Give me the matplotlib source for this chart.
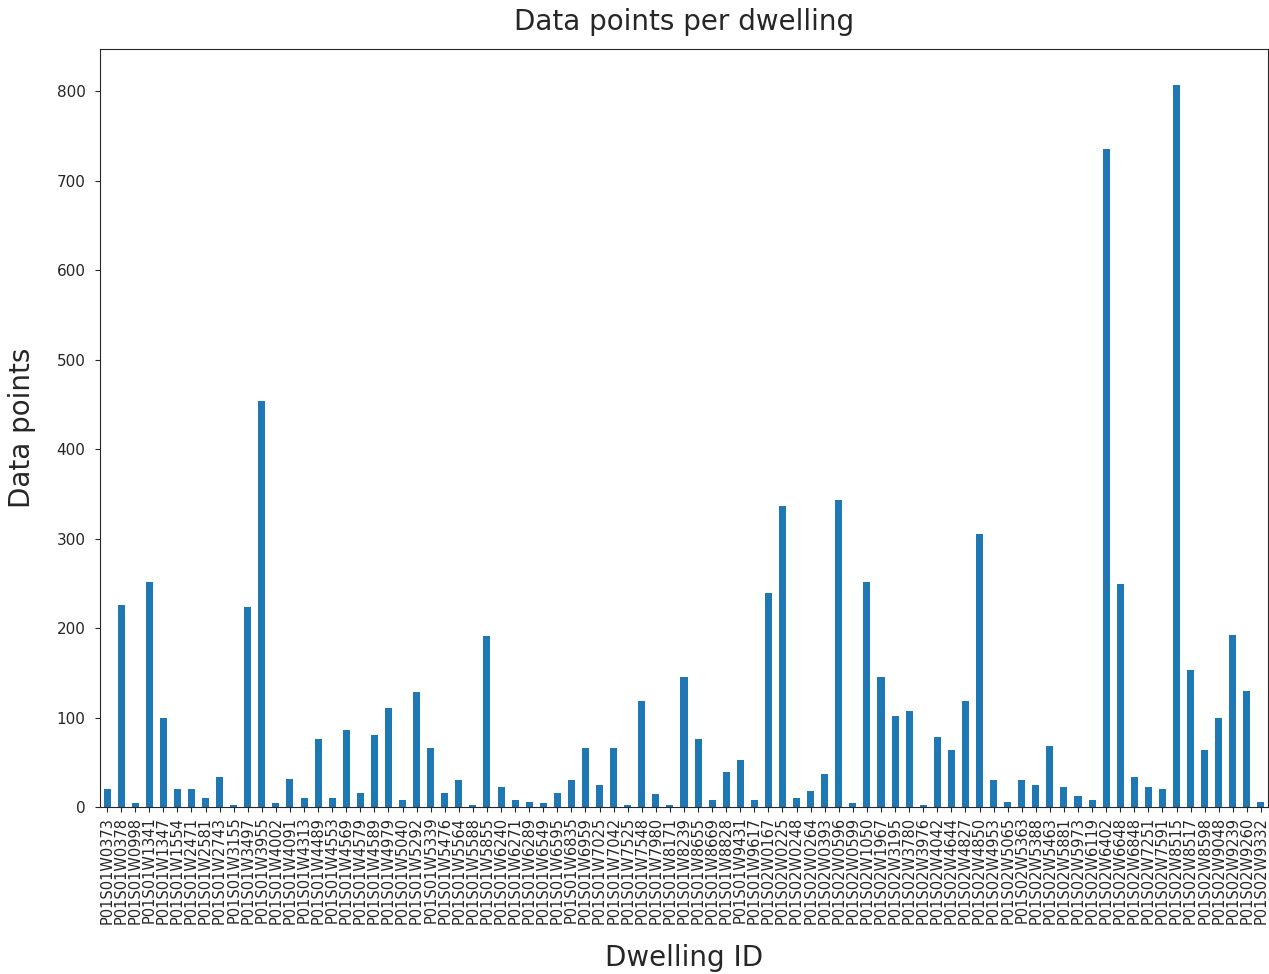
import matplotlib
matplotlib.use("Agg")
import matplotlib.pyplot as plt
import numpy as np

dwellings = [
    "P01S01W0373", "P01S01W0378", "P01S01W0998", "P01S01W1341", "P01S01W1347",
    "P01S01W1554", "P01S01W2471", "P01S01W2581", "P01S01W2743", "P01S01W3155",
    "P01S01W3497", "P01S01W3955", "P01S01W4002", "P01S01W4091", "P01S01W4313",
    "P01S01W4489", "P01S01W4553", "P01S01W4569", "P01S01W4579", "P01S01W4589",
    "P01S01W4979", "P01S01W5040", "P01S01W5292", "P01S01W5339", "P01S01W5476",
    "P01S01W5564", "P01S01W5588", "P01S01W5855", "P01S01W6240", "P01S01W6271",
    "P01S01W6289", "P01S01W6549", "P01S01W6595", "P01S01W6835", "P01S01W6959",
    "P01S01W7025", "P01S01W7042", "P01S01W7525", "P01S01W7548", "P01S01W7980",
    "P01S01W8171", "P01S01W8239", "P01S01W8655", "P01S01W8669", "P01S01W8828",
    "P01S01W9431", "P01S01W9617", "P01S02W0167", "P01S02W0225", "P01S02W0248",
    "P01S02W0264", "P01S02W0393", "P01S02W0596", "P01S02W0599", "P01S02W1050",
    "P01S02W1967", "P01S02W3195", "P01S02W3780", "P01S02W3976", "P01S02W4042",
    "P01S02W4644", "P01S02W4827", "P01S02W4850", "P01S02W4953", "P01S02W5065",
    "P01S02W5363", "P01S02W5388", "P01S02W5463", "P01S02W5881", "P01S02W5973",
    "P01S02W6119", "P01S02W6402", "P01S02W6648", "P01S02W6848", "P01S02W7251",
    "P01S02W7591", "P01S02W8515", "P01S02W8517", "P01S02W8598", "P01S02W9048",
    "P01S02W9239", "P01S02W9260", "P01S02W9332",
]

data_points = [
    20, 226, 4, 251, 99,
    20, 20, 10, 33, 2,
    223, 454, 4, 31, 10,
    76, 10, 86, 16, 80,
    111, 8, 128, 66, 16,
    30, 2, 191, 22, 8,
    6, 4, 16, 30, 66,
    24, 66, 2, 118, 14,
    2, 145, 76, 8, 39,
    53, 8, 239, 336, 10,
    18, 37, 343, 4, 252,
    145, 102, 107, 2, 78,
    64, 118, 305, 30, 6,
    30, 24, 68, 22, 12,
    8, 736, 249, 33, 22,
    20, 807, 153, 64, 99,
    192, 130, 6,
]

text_color = "#262626"
plt.rcParams["text.color"] = text_color
plt.rcParams["axes.labelcolor"] = text_color
plt.rcParams["xtick.color"] = text_color
plt.rcParams["ytick.color"] = text_color
plt.rcParams["axes.edgecolor"] = text_color

fig = plt.figure(figsize=(12.69, 9.74), dpi=100)
ax = fig.add_axes([0.0788, 0.1715, 0.9204, 0.7782])

x = np.arange(len(dwellings))
ax.bar(x, data_points, width=0.5, color="#1f77b4")
ax.set_xlim(-0.5, len(dwellings) - 0.5)
ax.set_ylim(0, max(data_points) * 1.05)
ax.set_xticks(x)
ax.set_xticklabels(dwellings, rotation=90, fontsize=10.5)
ax.tick_params(axis="y", labelsize=11, pad=7)
ax.set_yticks(np.arange(0, 801, 100))

ax.set_title("Data points per dwelling", fontsize=20, pad=14)
ax.set_xlabel("Dwelling ID", fontsize=20, labelpad=14)
ax.set_ylabel("Data points", fontsize=20, labelpad=15)

fig.savefig("out.png", dpi=100)
